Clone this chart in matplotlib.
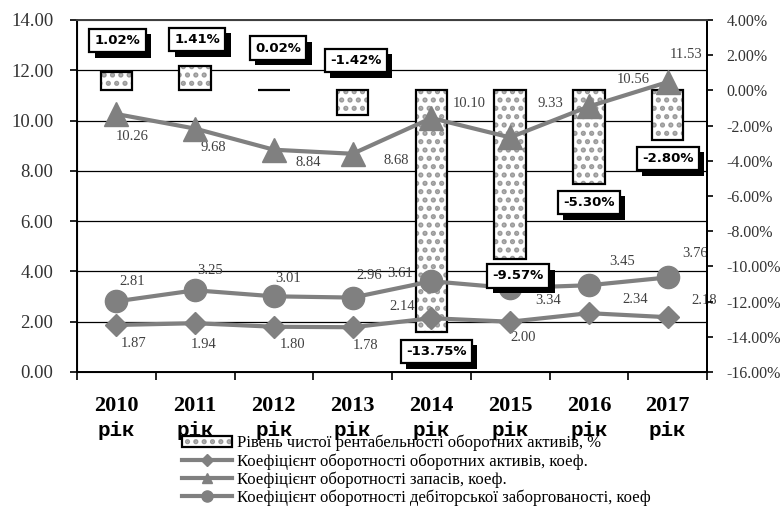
import matplotlib
matplotlib.use('Agg')
import matplotlib.pyplot as plt
import matplotlib.patheffects as pe
from matplotlib.lines import Line2D
from matplotlib.ticker import FuncFormatter, MultipleLocator, FixedLocator
from matplotlib.transforms import blended_transform_factory

plt.rcParams['font.family'] = ['Liberation Serif', 'DejaVu Serif']
plt.rcParams['hatch.linewidth'] = 2.5

# Дані
roky = ['2010', '2011', '2012', '2013', '2014', '2015', '2016', '2017']
rik = 'рік'
rentabelnist = [1.02, 1.41, 0.02, -1.42, -13.75, -9.57, -5.30, -2.80]
koef_aktyviv = [1.87, 1.94, 1.80, 1.78, 2.14, 2.00, 2.34, 2.18]
koef_zapasiv = [10.26, 9.68, 8.84, 8.68, 10.10, 9.33, 10.56, 11.53]
koef_debitor = [2.81, 3.25, 3.01, 2.96, 3.61, 3.34, 3.45, 3.76]
nazvy = ['Рівень чистої рентабельності оборотних активів, %',
         'Коефіцієнт оборотності оборотних активів, коеф.',
         'Коефіцієнт оборотності запасів, коеф.',
         'Коефіцієнт оборотності дебіторської заборгованості, коеф']

# Зсуви підписів (пікселі), підібрані під оригінал
zsuv_rent = [(1, 32), (2, 26), (4, 42), (3, 55), (5, -19), (8, -17), (0, -19), (0, -19)]
zsuv_akt = [(17, -19), (8, -21), (19, -18), (13, -18), (-29, 12), (13, -16), (46, 14), (37, 17)]
zsuv_zap = [(16, -22), (18, -19), (34, -13), (44, -7), (38, 15), (40, 34), (44, 27), (18, 28)]
zsuv_deb = [(16, 20), (15, 20), (14, 18), (17, 22), (-31, 8), (38, -12), (33, 24), (27, 24)]

SIRYI = '#808080'
x = list(range(len(roky)))

fig = plt.figure(figsize=(7.83, 5.09), dpi=100)
ax = fig.add_axes([77 / 783, 1 - 372 / 509, 630 / 783, 352 / 509])
ax2 = ax.twinx()
# лінії поверх стовпчиків
ax.set_zorder(ax2.get_zorder() + 1)
ax.patch.set_visible(False)

ax.set_xlim(-0.5, 7.5)
ax.set_ylim(0, 14)
ax2.set_ylim(-16, 4)

# Сітка позаду стовпчиків
tr = blended_transform_factory(ax2.transAxes, ax.transData)
for v in range(2, 14, 2):
    ax2.plot([0, 1], [v, v], transform=tr, color='black', lw=0.9, zorder=0.5)

# Стовпчики (візерунок + рамка)
stovp_fill = ax2.bar(x, rentabelnist, width=0.4, color='white', edgecolor='#9a9a9a',
                     hatch='..', lw=0, zorder=2)
stovp_rama = ax2.bar(x, rentabelnist, width=0.4, fill=False, edgecolor='black',
                     lw=1.6, zorder=2.1)

# Лінії
l_akt, = ax.plot(x, koef_aktyviv, color=SIRYI, lw=3, marker='D', ms=11, mec=SIRYI, zorder=3)
l_zap, = ax.plot(x, koef_zapasiv, color=SIRYI, lw=3, marker='^', ms=17, mec=SIRYI, zorder=3)
l_deb, = ax.plot(x, koef_debitor, color=SIRYI, lw=3, marker='o', ms=16, mec=SIRYI, zorder=3)

# Підписи ліній (під стовпчиками)
for ryad, zsuv in ((koef_aktyviv, zsuv_akt), (koef_zapasiv, zsuv_zap), (koef_debitor, zsuv_deb)):
    for i, v in enumerate(ryad):
        ax2.annotate(f'{v:.2f}', xy=(i, v), xycoords=ax.transData, xytext=zsuv[i],
                     textcoords='offset pixels', ha='center', va='center',
                     fontsize=10.5, color='#404040', zorder=1)

# Підписи стовпчиків у рамках з тінню
for i, v in enumerate(rentabelnist):
    t = ax.annotate(f'{v:.2f}%', xy=(i, v), xycoords=ax2.transData, xytext=zsuv_rent[i],
                    textcoords='offset pixels', ha='center', va='center',
                    fontsize=9.5, fontweight='bold', family='DejaVu Sans', color='black',
                    bbox=dict(boxstyle='square,pad=0.4', fc='white', ec='black', lw=1.6),
                    zorder=6)
    t.get_bbox_patch().set_path_effects([
        pe.SimplePatchShadow(offset=(4, -4), shadow_rgbFace='black', alpha=1.0),
        pe.Normal()])

# Осі
for s in ('left', 'bottom', 'right'):
    ax.spines[s].set_color('black')
    ax.spines[s].set_linewidth(1.4)
ax.spines['top'].set_color('#404040')
ax.spines['top'].set_linewidth(1.4)
ax2.spines['right'].set_color('black')
ax2.spines['right'].set_linewidth(1.4)

ax.yaxis.set_major_locator(MultipleLocator(2))
ax.yaxis.set_major_formatter(FuncFormatter(lambda v, p: f'{v:.2f}'))
ax.tick_params(axis='y', length=5, width=1.2, pad=12, labelsize=13.5, labelcolor='#333333')

ax2.yaxis.set_major_locator(MultipleLocator(2))
ax2.yaxis.set_major_formatter(FuncFormatter(lambda v, p: f'{v:.2f}%'))
ax2.tick_params(axis='y', length=4, width=1.2, pad=10, labelsize=11.5, labelcolor='#333333')

ax.set_xticks(x)
ax.set_xticklabels(roky, fontsize=16, fontweight='bold')
ax.xaxis.set_minor_locator(FixedLocator([i - 0.5 for i in range(len(roky) + 1)]))
ax.tick_params(axis='x', which='major', length=0, pad=17)
ax.tick_params(axis='x', which='minor', length=6, width=1.2)
for i in x:
    ax.annotate(rik, xy=(i, 0), xycoords=('data', 'axes fraction'), xytext=(0, -59),
                textcoords='offset pixels', ha='center', va='center',
                fontsize=15, fontweight='bold', family='Liberation Mono', annotation_clip=False)

# Легенда
ruchky = [(stovp_fill.patches[0], stovp_rama.patches[0]),
          Line2D([], [], color=SIRYI, lw=3, marker='D', ms=6),
          Line2D([], [], color=SIRYI, lw=3, marker='^', ms=7),
          Line2D([], [], color=SIRYI, lw=3, marker='o', ms=8)]
fig.legend(ruchky, nazvy, loc='upper left', bbox_to_anchor=(0.222, 0.162), frameon=False,
           fontsize=12, handlelength=3.0, handletextpad=0.3, labelspacing=0.1, borderpad=0)

plt.savefig('out.png', dpi=100)
